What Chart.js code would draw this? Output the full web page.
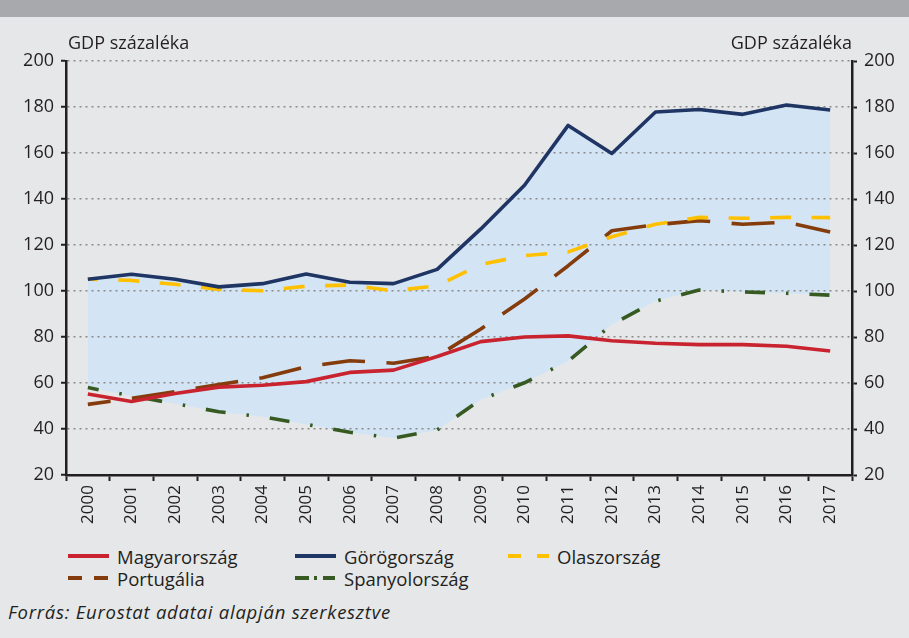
<!DOCTYPE html>
<html><head><meta charset="utf-8">
<script src="https://cdn.jsdelivr.net/npm/chart.js@4.4.1/dist/chart.umd.min.js"></script>
<style>
html,body{margin:0;padding:0;background:#e6e7e9;width:909px;height:638px;overflow:hidden;font-family:'Open Sans',sans-serif;color:#231f20}
#band{position:absolute;left:0;top:0;width:909px;height:17px;background:#a7a9ac}
#wrap{position:absolute;left:0;top:0;width:909px;height:540px}
.ttl{position:absolute;top:30px;font-size:18px;line-height:24px;white-space:nowrap}
.li{position:absolute;height:22px;display:flex;align-items:center;font-size:18.5px;white-space:nowrap}
.li svg{margin-right:8px;display:block}
#src{position:absolute;left:8px;top:599px;font-style:italic;font-size:18.5px;letter-spacing:0.75px;line-height:26px;white-space:nowrap}
</style></head>
<body>
<div id="band"></div>
<div id="wrap"><canvas id="c"></canvas></div>
<div class="ttl" style="left:68px">GDP százaléka</div>
<div class="ttl" style="right:57px">GDP százaléka</div>
<div id="legend"></div>
<div id="src">Forrás: Eurostat adatai alapján szerkesztve</div>
<script>
const years = ['2000','2001','2002','2003','2004','2005','2006','2007','2008','2009','2010','2011','2012','2013','2014','2015','2016','2017'];
const seriesNames = ['Magyarország','Görögország','Olaszország','Portugália','Spanyolország'];
const hungary  = [55.2, 52.0, 55.4, 58.2, 59.0, 60.6, 64.6, 65.6, 71.5, 78.0, 80.0, 80.5, 78.4, 77.3, 76.7, 76.7, 76.0, 73.9];
const greece   = [105.1, 107.3, 105.1, 101.8, 103.2, 107.4, 103.8, 103.2, 109.4, 127.0, 146.0, 172.0, 159.8, 177.8, 178.9, 176.8, 180.9, 178.7];
const italy    = [105.2, 104.6, 102.9, 100.7, 100.1, 102.1, 102.6, 100.1, 102.3, 111.5, 115.4, 117.0, 123.6, 129.0, 132.0, 131.6, 132.0, 131.9];
const portugal = [50.7, 53.3, 56.2, 59.3, 62.3, 67.1, 69.7, 68.6, 71.7, 83.5, 96.5, 111.0, 126.2, 128.8, 130.6, 129.0, 129.9, 125.7];
const spain    = [58.0, 54.4, 51.0, 47.5, 45.3, 42.0, 38.6, 36.0, 39.6, 52.8, 60.1, 69.5, 85.4, 95.6, 100.4, 99.6, 99.0, 98.2];
const yTicks = {min: 20, max: 200, step: 20};

const colors = ['#c8232f', '#1f3564', '#ffc000', '#843c0c', '#375a23'];
const plotDash = [[], [], [21, 20.5], [43, 21.5], [20, 21, 2.5, 21]];
const plotDashOffset = [0, 0, 11, 20, 9];
const legendDash = ['', '', '13 16 13', '14 12 14', '14 5 3 6 12'];
const values = [hungary, greece, italy, portugal, spain];
const fillColor = '#d3e5f5';
const dark = '#231f20';

const datasets = values.map((v, i) => ({
  label: seriesNames[i],
  data: v,
  borderColor: colors[i],
  backgroundColor: i === 1 ? fillColor : colors[i],
  borderWidth: 3.6,
  borderDash: plotDash[i],
  borderDashOffset: plotDashOffset[i],
  borderCapStyle: 'butt',
  borderJoinStyle: 'round',
  pointRadius: 0,
  tension: 0,
  fill: i === 1 ? {target: 4} : false
}));

new Chart(document.getElementById('c'), {
  type: 'line',
  data: {labels: years, datasets},
  options: {
    responsive: true,
    maintainAspectRatio: false,
    animation: false,
    layout: {padding: {top: 61, left: 0, right: 0, bottom: 0}},
    plugins: {
      legend: {display: false},
      tooltip: {enabled: false},
      filler: {drawTime: 'beforeDraw'}
    },
    scales: {
      x: {
        offset: true,
        grid: {offset: true, drawOnChartArea: false, drawTicks: true, tickLength: 6, tickColor: dark, tickWidth: 2},
        border: {color: dark, width: 2.5},
        ticks: {maxRotation: 90, minRotation: 90, autoSkip: false, font: {family: 'Open Sans', size: 17}, color: dark, padding: 4},
        afterFit: s => { s.height = 65; }
      },
      y: {
        position: 'left',
        min: yTicks.min, max: yTicks.max,
        ticks: {stepSize: yTicks.step, font: {family: 'Open Sans', size: 18}, color: dark, padding: 7},
        grid: {color: '#8a8a8a', lineWidth: 1.5, tickLength: 5, tickColor: dark, tickWidth: 2},
        border: {color: dark, width: 2.5, dash: [2, 4]},
        afterFit: s => { s.width = 66; }
      },
      y2: {
        position: 'right',
        min: yTicks.min, max: yTicks.max,
        ticks: {stepSize: yTicks.step, font: {family: 'Open Sans', size: 18}, color: dark, padding: 7},
        grid: {drawOnChartArea: false, tickLength: 5, tickColor: dark, tickWidth: 2},
        border: {color: dark, width: 2.5},
        afterFit: s => { s.width = 57; }
      }
    }
  }
});

// HTML legend
const legendPos = [[68, 545], [295, 545], [508, 545], [68, 567], [295, 567]];
const lg = document.getElementById('legend');
seriesNames.forEach((n, i) => {
  const d = document.createElement('div');
  d.className = 'li';
  d.style.left = legendPos[i][0] + 'px';
  d.style.top = legendPos[i][1] + 'px';
  const dash = legendDash[i] ? ` stroke-dasharray="${legendDash[i]}"` : '';
  d.innerHTML = `<svg width="41" height="8"><line x1="0" y1="4" x2="41" y2="4" stroke="${colors[i]}" stroke-width="4"${dash}/></svg><span>${n}</span>`;
  lg.appendChild(d);
});
</script>
</body></html>
